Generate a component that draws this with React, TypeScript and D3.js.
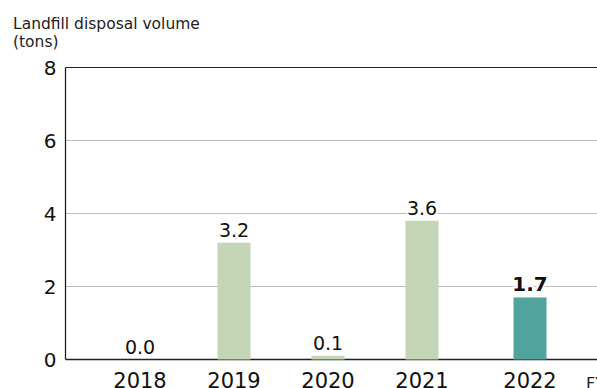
import React from "react";
import * as d3 from "d3";

const categories = ["2018", "2019", "2020", "2021", "2022"];
const values = [0, 3.2, 0.1, 3.8, 1.7];
const valueLabels = ["0.0", "3.2", "0.1", "3.6", "1.7"];
const yTicks = [0, 2, 4, 6, 8];

const W = 597;
const H = 388;
const FONT = "'DejaVu Sans', sans-serif";

export default function App() {
  const left = 65.5;
  const y = d3.scaleLinear().domain([0, 8]).range([359.5, 67.5]);
  const x = d3.scalePoint().domain(categories).range([140, 516]);
  const bw = 33;
  const cx = (c: string, i: number) => (x(c) as number) + (i === categories.length - 1 ? 14 : 0);

  return (
    <svg width={W} height={H} style={{ position: "absolute", left: 0, top: 0 }} fontFamily={FONT}>
      <rect width={W} height={H} fill="#fff" />
      <text x={13} y={28.5} fontSize={15.5} fill="#222">Landfill disposal volume</text>
      <text x={13} y={46.5} fontSize={15.5} fill="#222">(tons)</text>
      {yTicks.map((t) => (
        <g key={t}>
          <line x1={left} x2={W} y1={y(t)} y2={y(t)} stroke={t === 0 || t === 8 ? "#222" : "#bdbdbd"} strokeWidth={t === 0 ? 1.5 : 1.2} />
          <text x={50} y={y(t) + 7} fontSize={20} textAnchor="middle" fill="#111">{t}</text>
        </g>
      ))}
      <line x1={left} x2={left} y1={y(8)} y2={y(0)} stroke="#222" strokeWidth={1.3} />
      {categories.map((c, i) => {
        const last = i === categories.length - 1;
        const xc = cx(c, i);
        return (
          <g key={c}>
            {values[i] > 0 && (
              <rect x={xc - bw / 2} y={y(values[i])} width={bw} height={y(0) - y(values[i])} fill={last ? "#51a39d" : "#c4d6b6"} />
            )}
            <text
              x={xc}
              y={y(values[i]) - 6}
              fontSize={last ? 20 : 19}
              fontWeight={last ? 700 : 400}
              textAnchor="middle"
              fill="#111"
              stroke="#fff"
              strokeWidth={4}
              paintOrder="stroke"
            >
              {valueLabels[i]}
            </text>
            <text x={xc} y={388} fontSize={21} textAnchor="middle" fill="#111">{c}</text>
          </g>
        );
      })}
      <text x={586} y={389} fontSize={16} fill="#222">FY</text>
    </svg>
  );
}
